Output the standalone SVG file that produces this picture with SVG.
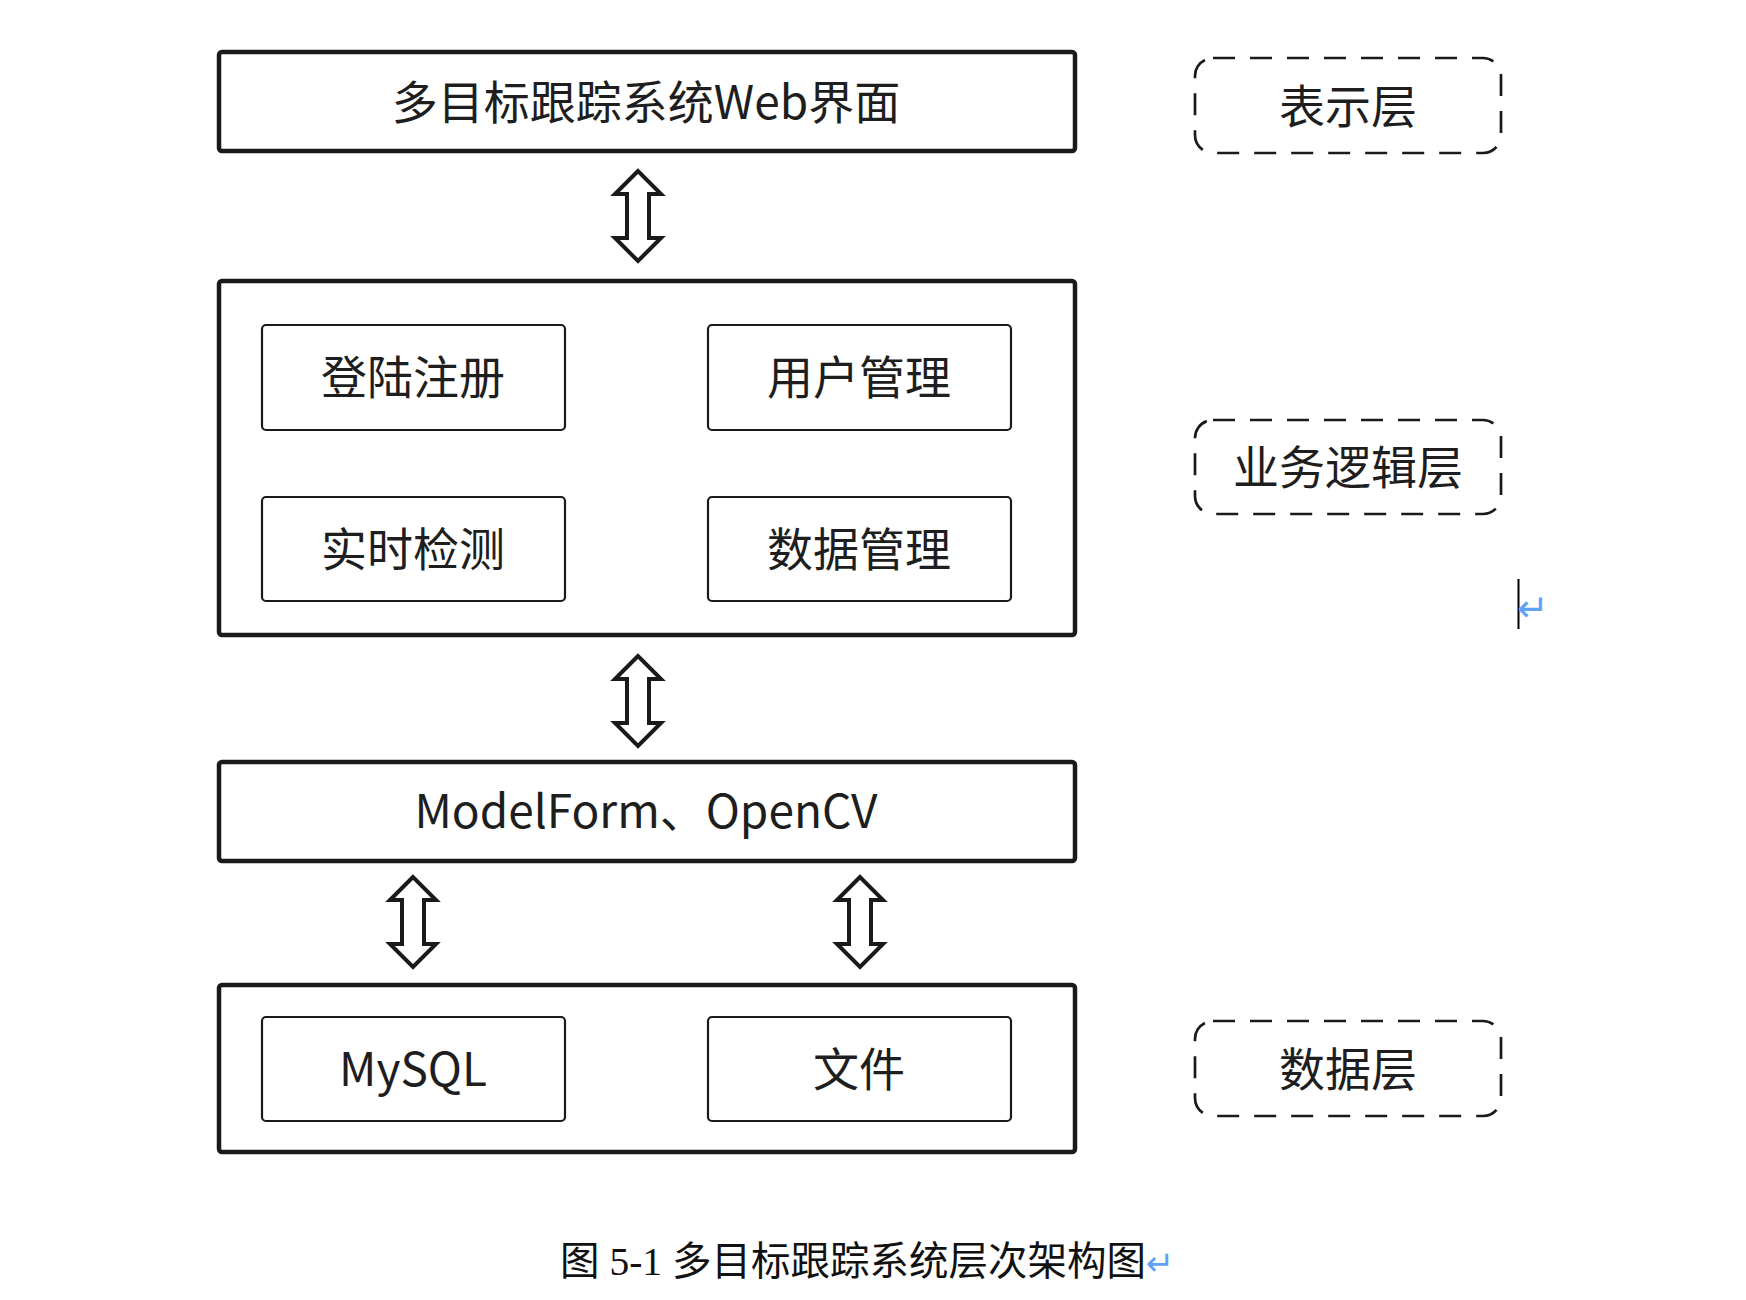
<svg xmlns="http://www.w3.org/2000/svg" width="1746" height="1300" viewBox="0 0 1746 1300">
<defs>
<style>
.outer{fill:#fff;stroke:#1a1a1a;stroke-width:4.5}
.inner{fill:#fff;stroke:#1a1a1a;stroke-width:2.2}
.dash{fill:none;stroke:#1a1a1a;stroke-width:2.7;stroke-dasharray:22 15}
.lbl{font-family:"Noto Sans CJK SC","Noto Sans",sans-serif;font-size:46px;fill:#1e1e1e;text-anchor:middle;dominant-baseline:central}
.arr{fill:#fff;stroke:#1a1a1a;stroke-width:4;stroke-linejoin:miter}
.cap{font-family:"Liberation Serif","Noto Sans CJK SC",serif;font-size:39.5px;fill:#111}
.mark{font-family:"DejaVu Sans",sans-serif;fill:#5fa2f5}
</style>
<polygon id="dbl" points="0,-45 -23,-22 -11,-22 -11,22 -23,22 0,45 23,22 11,22 11,-22 23,-22"/>
</defs>
<rect width="1746" height="1300" fill="#fff"/>

<g id="connectors">
<use href="#dbl" class="arr" x="638" y="216"/>
<use href="#dbl" class="arr" x="638" y="701"/>
<use href="#dbl" class="arr" x="413" y="922"/>
<use href="#dbl" class="arr" x="860" y="922"/>
</g>

<g id="web-ui">
<rect class="outer" x="219" y="52" width="856" height="99" rx="3"/>
<text class="lbl" x="646" y="99">多目标跟踪系统Web界面</text>
</g>

<g id="business-layer">
<rect class="outer" x="219" y="281" width="856" height="354" rx="3"/>
</g>
<g id="login">
<rect class="inner" x="262" y="325" width="303" height="105" rx="4"/>
<text class="lbl" x="413" y="374">登陆注册</text>
</g>
<g id="user-mgmt">
<rect class="inner" x="708" y="325" width="303" height="105" rx="4"/>
<text class="lbl" x="859" y="374">用户管理</text>
</g>
<g id="realtime">
<rect class="inner" x="262" y="497" width="303" height="104" rx="4"/>
<text class="lbl" x="413" y="546">实时检测</text>
</g>
<g id="data-mgmt">
<rect class="inner" x="708" y="497" width="303" height="104" rx="4"/>
<text class="lbl" x="859" y="546">数据管理</text>
</g>

<g id="modelform">
<rect class="outer" x="219" y="762" width="856" height="99" rx="3"/>
<text class="lbl" x="646" y="808">ModelForm、OpenCV</text>
</g>

<g id="data-layer">
<rect class="outer" x="219" y="985" width="856" height="167" rx="3"/>
</g>
<g id="mysql">
<rect class="inner" x="262" y="1017" width="303" height="104" rx="4"/>
<text class="lbl" x="413" y="1066">MySQL</text>
</g>
<g id="file">
<rect class="inner" x="708" y="1017" width="303" height="104" rx="4"/>
<text class="lbl" x="859" y="1066">文件</text>
</g>

<g id="label-presentation">
<rect class="dash" x="1195" y="58" width="306" height="95" rx="18"/>
<text class="lbl" x="1348" y="103">表示层</text>
</g>
<g id="label-business">
<rect class="dash" x="1195" y="420" width="306" height="94" rx="18"/>
<text class="lbl" x="1348" y="464">业务逻辑层</text>
</g>
<g id="label-data">
<rect class="dash" x="1195" y="1021" width="306" height="95" rx="18"/>
<text class="lbl" x="1348" y="1066">数据层</text>
</g>

<line x1="1518.5" y1="579" x2="1518.5" y2="629" stroke="#000" stroke-width="2"/>
<text class="mark" x="1517" y="621" font-size="38">↵</text>

<text class="cap" x="560" y="1275">图 5-1 多目标跟踪系统层次架构图<tspan class="mark" font-size="34">↵</tspan></text>
</svg>
